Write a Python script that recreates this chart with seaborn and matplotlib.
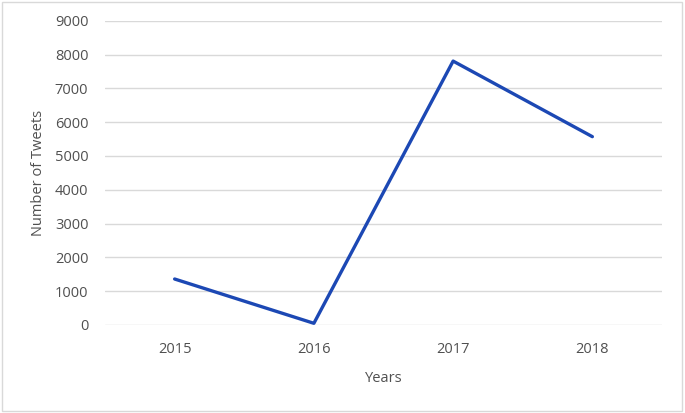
import pandas as pd
import matplotlib.pyplot as plt
import seaborn as sns
from matplotlib.patches import Rectangle

# data
years = ['2015', '2016', '2017', '2018']
tweets = [1360, 50, 7805, 5570]
y_ticks = [0, 1000, 2000, 3000, 4000, 5000, 6000, 7000, 8000, 9000]

df = pd.DataFrame({'Years': years, 'Number of Tweets': tweets})

sns.set_style('white')
plt.rcParams['font.family'] = ['Open Sans', 'DejaVu Sans']
text_color = '#505050'

fig = plt.figure(figsize=(6.85, 4.13), dpi=100)
ax = fig.add_axes([0.1533, 0.2131, 0.8131, 0.7368])

sns.lineplot(data=df, x='Years', y='Number of Tweets', ax=ax,
             color='#1c48b4', linewidth=2.4, sort=False)

ax.set_xlim(-0.5, 3.5)
ax.set_ylim(0, 9000)
ax.set_yticks(y_ticks)
ax.yaxis.grid(True, color='#d9d9d9', linewidth=1)
ax.set_axisbelow(True)
for s in ax.spines.values():
    s.set_visible(False)
ax.tick_params(axis='both', length=0, labelsize=10.5, labelcolor=text_color)
ax.tick_params(axis='y', pad=12)
ax.tick_params(axis='x', pad=12)

ax.set_xlabel('Years', fontsize=10.5, color=text_color, labelpad=10)
ax.set_ylabel('Number of Tweets', fontsize=10.5, color=text_color, labelpad=6)

# light frame around the whole chart
fig.patches.append(Rectangle((0.003, 0.004), 0.992, 0.991, transform=fig.transFigure,
                             fill=False, edgecolor='#d9d9d9', linewidth=1))

plt.savefig('out.png', dpi=100)
